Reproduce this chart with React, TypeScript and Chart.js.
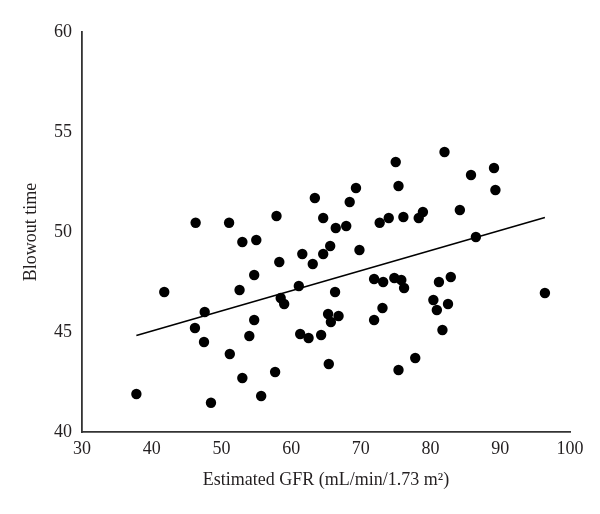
import React, { useEffect, useRef } from "react";
import { Chart, registerables } from "chart.js";

Chart.register(...registerables);

const gfr = [
  37.8, 41.8, 46.3, 46.2, 47.6, 47.5, 48.5, 51.1, 51.2, 52.6, 53.0, 53.0, 55.0, 54.7, 54.7, 54.0,
  55.7, 57.9, 58.3, 58.5, 59.0, 57.7, 61.1, 61.6, 61.3, 62.5, 63.1, 63.4, 64.6, 64.6, 64.3, 65.6,
  65.3, 65.7, 66.8, 66.3, 66.4, 65.4, 67.9, 68.4, 69.3, 69.8, 71.9, 71.9, 72.7, 73.2, 73.1, 74.0,
  74.8, 75.0, 75.4, 76.1, 75.8, 76.2, 75.4, 77.8, 78.3, 78.9, 80.4, 80.9, 81.2, 81.7, 82.0, 82.5,
  82.9, 84.2, 85.8, 86.5, 89.1, 89.3, 96.4,
];
const blowout = [
  41.9, 47.0, 50.46, 45.2, 46.0, 44.5, 41.46, 50.46, 43.9, 47.1, 49.5, 42.7, 49.6, 47.85, 45.6, 44.8,
  41.8, 50.8, 48.5, 46.7, 46.4, 43.0, 47.3, 48.9, 44.9, 44.7, 48.4, 51.7, 50.7, 48.9, 44.85, 49.3,
  45.9, 45.5, 45.8, 47.0, 50.2, 43.4, 50.3, 51.5, 52.2, 49.1, 47.65, 45.6, 50.46, 47.5, 46.2, 50.7,
  47.7, 53.5, 52.3, 50.75, 47.6, 47.2, 43.1, 43.7, 50.7, 51.0, 46.6, 46.1, 47.5, 45.1, 54.0, 46.4,
  47.75, 51.1, 52.85, 49.75, 53.2, 52.1, 46.95,
];
const trendX = [37.8, 96.4];
const trendY = [44.83, 50.73];

const xTicks = [30, 100, 10];
const yTicks = [40, 60, 5];
const xTitle = "Estimated GFR (mL/min/1.73 m\u00B2)";
const yTitle = "Blowout time";

export default function App() {
  const ref = useRef<HTMLCanvasElement | null>(null);
  useEffect(() => {
    if (!ref.current) return;
    const font = { family: "'Liberation Serif', 'Times New Roman', serif", size: 18 };
    const textColor = "#231f20";
    const chart = new Chart(ref.current, {
      type: "scatter",
      data: {
        datasets: [
          {
            type: "line",
            data: trendX.map((x, i) => ({ x, y: trendY[i] })),
            borderColor: "#000",
            borderWidth: 1.6,
            pointRadius: 0,
            fill: false,
          } as any,
          {
            data: gfr.map((x, i) => ({ x, y: blowout[i] })),
            backgroundColor: "#000",
            borderWidth: 0,
            pointRadius: 5.2,
          },
        ],
      },
      options: {
        animation: false,
        responsive: false,
        layout: { padding: { top: 32, right: 30, bottom: 0, left: 0 } },
        plugins: { legend: { display: false }, tooltip: { enabled: false } },
        scales: {
          x: {
            type: "linear",
            min: xTicks[0],
            max: xTicks[1],
            afterFit: (s: any) => {
              s.height = 82;
            },
            ticks: { stepSize: xTicks[2], font, color: textColor, padding: 6, maxRotation: 0 },
            grid: { display: false, drawTicks: false },
            border: { display: true, color: "#333", width: 1.8 },
            title: { display: true, text: xTitle, font, color: textColor, padding: { top: 0, bottom: 23 } },
          },
          y: {
            type: "linear",
            min: yTicks[0],
            max: yTicks[1],
            afterFit: (s: any) => {
              s.width = 82;
            },
            ticks: { stepSize: yTicks[2], font, color: textColor, padding: 10 },
            grid: { display: false, drawTicks: false },
            border: { display: true, color: "#333", width: 1.8 },
            title: { display: true, text: yTitle, font, color: textColor, padding: { top: 20, bottom: 0 } },
          },
        },
      },
    });
    return () => chart.destroy();
  }, []);
  return (
    <div style={{ position: "absolute", left: 0, top: 0, width: 600, height: 514, background: "#fff" }}>
      <canvas ref={ref} width={600} height={514} />
    </div>
  );
}
